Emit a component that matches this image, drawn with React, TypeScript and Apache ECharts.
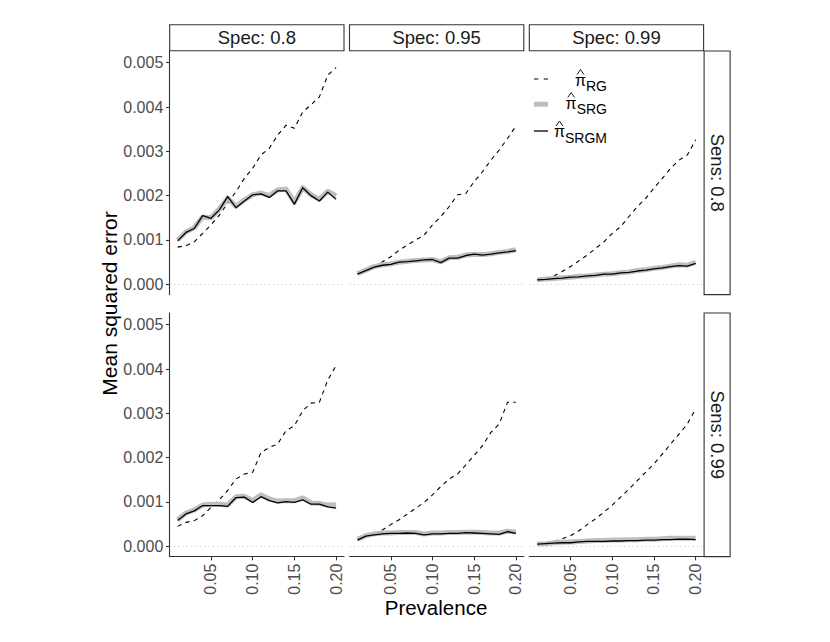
import React, { useEffect, useRef } from 'react';
import * as echarts from 'echarts';

// ---------- data ----------
const PREVALENCE = [0.01, 0.02, 0.03, 0.04, 0.05, 0.06, 0.07, 0.08, 0.09, 0.10, 0.11, 0.12, 0.13, 0.14, 0.15, 0.16, 0.17, 0.18, 0.19, 0.20];
const SPEC_LABELS = ['Spec: 0.8', 'Spec: 0.95', 'Spec: 0.99'];
const SENS_LABELS = ['Sens: 0.8', 'Sens: 0.99'];
const Y_TICKS = [0, 0.001, 0.002, 0.003, 0.004, 0.005];
const X_TICKS = [0.05, 0.10, 0.15, 0.20];
const LEGEND_SUBS = ['RG', 'SRG', 'SRGM'];
const X_TITLE = 'Prevalence';
const Y_TITLE = 'Mean squared error';

// Sens 0.8
const RG_SE80_SP80 = [0.00084, 0.00087, 0.00096, 0.00115, 0.00134, 0.00156, 0.00183, 0.00209, 0.00239, 0.00262, 0.00292, 0.00307, 0.00337, 0.00359, 0.00352, 0.00389, 0.00405, 0.00423, 0.00472, 0.00489];
const SRG_SE80_SP80 = [0.00100, 0.00118, 0.00128, 0.00152, 0.00150, 0.00170, 0.00195, 0.00176, 0.00190, 0.00202, 0.00206, 0.00200, 0.00213, 0.00215, 0.00185, 0.00218, 0.00202, 0.00192, 0.00210, 0.00200];
const SRGM_SE80_SP80 = [0.00098, 0.00117, 0.00126, 0.00155, 0.00149, 0.00168, 0.00198, 0.00173, 0.00188, 0.00202, 0.00204, 0.00196, 0.00211, 0.00211, 0.00181, 0.00218, 0.00200, 0.00188, 0.00208, 0.00192];

const RG_SE80_SP95 = [0.00025, 0.00032, 0.00040, 0.00051, 0.00062, 0.00077, 0.00089, 0.00100, 0.00111, 0.00134, 0.00153, 0.00175, 0.00202, 0.00205, 0.00232, 0.00254, 0.00280, 0.00303, 0.00329, 0.00357];
const SRG_SE80_SP95 = [0.00024, 0.00032, 0.00040, 0.00044, 0.00046, 0.00050, 0.00052, 0.00054, 0.00055, 0.00056, 0.00051, 0.00060, 0.00061, 0.00066, 0.00068, 0.00067, 0.00069, 0.00072, 0.00074, 0.00078];
const SRGM_SE80_SP95 = [0.00023, 0.00031, 0.00039, 0.00043, 0.00045, 0.00050, 0.00051, 0.00053, 0.00055, 0.00056, 0.00049, 0.00059, 0.00059, 0.00065, 0.00068, 0.00066, 0.00068, 0.00071, 0.00073, 0.00076];

const RG_SE80_SP99 = [0.00010, 0.00012, 0.00019, 0.00029, 0.00040, 0.00053, 0.00066, 0.00081, 0.00096, 0.00115, 0.00130, 0.00153, 0.00175, 0.00194, 0.00217, 0.00239, 0.00262, 0.00280, 0.00292, 0.00326];
const SRG_SE80_SP99 = [0.00010, 0.00012, 0.00013, 0.00015, 0.00016, 0.00018, 0.00019, 0.00021, 0.00023, 0.00024, 0.00026, 0.00028, 0.00031, 0.00033, 0.00036, 0.00038, 0.00041, 0.00044, 0.00043, 0.00050];
const SRGM_SE80_SP99 = [0.00010, 0.00011, 0.00013, 0.00014, 0.00016, 0.00017, 0.00019, 0.00020, 0.00023, 0.00023, 0.00026, 0.00027, 0.00030, 0.00032, 0.00035, 0.00037, 0.00040, 0.00042, 0.00041, 0.00047];

// Sens 0.99
const RG_SE99_SP80 = [0.00045, 0.00054, 0.00058, 0.00069, 0.00088, 0.00105, 0.00126, 0.00152, 0.00163, 0.00167, 0.00212, 0.00223, 0.00231, 0.00261, 0.00272, 0.00306, 0.00323, 0.00325, 0.00375, 0.00408];
const SRG_SE99_SP80 = [0.00060, 0.00075, 0.00082, 0.00093, 0.00095, 0.00095, 0.00093, 0.00112, 0.00113, 0.00103, 0.00116, 0.00107, 0.00102, 0.00103, 0.00103, 0.00109, 0.00098, 0.00097, 0.00093, 0.00094];
const SRGM_SE99_SP80 = [0.00058, 0.00073, 0.00080, 0.00092, 0.00092, 0.00092, 0.00090, 0.00110, 0.00111, 0.00099, 0.00112, 0.00103, 0.00098, 0.00101, 0.00099, 0.00105, 0.00095, 0.00095, 0.00089, 0.00086];

const RG_SE99_SP95 = [0.00017, 0.00024, 0.00029, 0.00037, 0.00049, 0.00060, 0.00073, 0.00086, 0.00099, 0.00116, 0.00135, 0.00152, 0.00163, 0.00184, 0.00205, 0.00227, 0.00257, 0.00276, 0.00325, 0.00325];
const SRG_SE99_SP95 = [0.00016, 0.00024, 0.00028, 0.00030, 0.00030, 0.00031, 0.00031, 0.00031, 0.00028, 0.00030, 0.00030, 0.00031, 0.00031, 0.00032, 0.00032, 0.00031, 0.00030, 0.00030, 0.00034, 0.00032];
const SRGM_SE99_SP95 = [0.00014, 0.00023, 0.00026, 0.00028, 0.00029, 0.00029, 0.00030, 0.00029, 0.00026, 0.00028, 0.00028, 0.00029, 0.00029, 0.00031, 0.00030, 0.00029, 0.00028, 0.00027, 0.00033, 0.00029];

const RG_SE99_SP99 = [0.00005, 0.00008, 0.00011, 0.00017, 0.00024, 0.00035, 0.00049, 0.00062, 0.00077, 0.00093, 0.00111, 0.00129, 0.00148, 0.00167, 0.00186, 0.00208, 0.00231, 0.00253, 0.00276, 0.00310];
const SRG_SE99_SP99 = [0.00005, 0.00006, 0.00008, 0.00009, 0.00010, 0.00011, 0.00012, 0.00013, 0.00013, 0.00014, 0.00014, 0.00015, 0.00015, 0.00016, 0.00016, 0.00017, 0.00018, 0.00018, 0.00018, 0.00018];
const SRGM_SE99_SP99 = [0.00005, 0.00006, 0.00007, 0.00008, 0.00008, 0.00010, 0.00011, 0.00011, 0.00011, 0.00012, 0.00012, 0.00013, 0.00013, 0.00014, 0.00014, 0.00015, 0.00015, 0.00016, 0.00016, 0.00015];

const PANELS = [
  { row: 0, col: 0, rg: RG_SE80_SP80, srg: SRG_SE80_SP80, srgm: SRGM_SE80_SP80 },
  { row: 0, col: 1, rg: RG_SE80_SP95, srg: SRG_SE80_SP95, srgm: SRGM_SE80_SP95 },
  { row: 0, col: 2, rg: RG_SE80_SP99, srg: SRG_SE80_SP99, srgm: SRGM_SE80_SP99 },
  { row: 1, col: 0, rg: RG_SE99_SP80, srg: SRG_SE99_SP80, srgm: SRGM_SE99_SP80 },
  { row: 1, col: 1, rg: RG_SE99_SP95, srg: SRG_SE99_SP95, srgm: SRGM_SE99_SP95 },
  { row: 1, col: 2, rg: RG_SE99_SP99, srg: SRG_SE99_SP99, srgm: SRGM_SE99_SP99 },
];

// ---------- layout ----------
const FONT = '"Liberation Sans", Arial, Helvetica, sans-serif';
const COL_LEFT = [169.7, 349.5, 529.3];
const PANEL_W = 174.3;
const ROW_TOP = [51, 313];
const PANEL_H = 243.6;
const STRIP = 26;
const X_MIN = 0.0005;
const X_MAX = 0.2095;
const Y_MIN = -0.000232;
const Y_MAX = 0.005264;
const AXIS_COLOR = '#333333';
const TICK_TEXT = '#4d4d4d';

function textWidth(s: string, size: number): number {
  const c = document.createElement('canvas').getContext('2d');
  if (!c) return s.length * size * 0.6;
  c.font = `${size}px ${FONT}`;
  return c.measureText(s).width;
}

function buildOption() {
  const grid: any[] = [];
  const xAxis: any[] = [];
  const yAxis: any[] = [];
  const series: any[] = [];

  PANELS.forEach((p, i) => {
    const bottom = p.row === 1;
    const left = p.col === 0;
    grid.push({ left: COL_LEFT[p.col], top: ROW_TOP[p.row], width: PANEL_W, height: PANEL_H, containLabel: false });
    xAxis.push({
      type: 'value', gridIndex: i, min: X_MIN, max: X_MAX,
      axisLine: { show: bottom, onZero: false, lineStyle: { color: AXIS_COLOR, width: 1.1 } },
      axisTick: { show: bottom, length: 3.7, customValues: X_TICKS, lineStyle: { color: AXIS_COLOR, width: 1.1 } },
      axisLabel: {
        show: bottom, customValues: X_TICKS, rotate: 90, margin: 7, fontSize: 16, color: TICK_TEXT, fontFamily: FONT,
        formatter: (v: number) => v.toFixed(2),
      },
      splitLine: { show: false },
    });
    yAxis.push({
      type: 'value', gridIndex: i, min: Y_MIN, max: Y_MAX,
      axisLine: { show: left, onZero: false, lineStyle: { color: AXIS_COLOR, width: 1.1 } },
      axisTick: { show: left, length: 3.7, customValues: Y_TICKS, lineStyle: { color: AXIS_COLOR, width: 1.1 } },
      axisLabel: {
        show: left, customValues: Y_TICKS, margin: 6.4, fontSize: 16, color: TICK_TEXT, fontFamily: FONT,
        formatter: (v: number) => v.toFixed(3),
      },
      splitLine: { show: false },
    });
    const pts = (arr: number[]) => PREVALENCE.map((x, k) => [x, arr[k]]);
    series.push({
      type: 'line', name: 'RG', xAxisIndex: i, yAxisIndex: i, data: pts(p.rg), symbol: 'none', z: 2,
      lineStyle: { color: '#000', width: 1.1, type: [4.3, 4.3], join: 'round' },
      markLine: {
        silent: true, symbol: ['none', 'none'], label: { show: false },
        lineStyle: { color: '#c4c4c4', width: 1, type: [1.1, 3.2] },
        data: [{ yAxis: 0 }],
      },
    });
    series.push({
      type: 'line', name: 'SRG', xAxisIndex: i, yAxisIndex: i, data: pts(p.srg), symbol: 'none', z: 3,
      lineStyle: { color: '#bebebe', width: 5, join: 'round', cap: 'butt' },
    });
    series.push({
      type: 'line', name: 'SRGM', xAxisIndex: i, yAxisIndex: i, data: pts(p.srgm), symbol: 'none', z: 4,
      lineStyle: { color: '#000', width: 1.3, join: 'round' },
    });
  });

  const txt = (text: string, x: number, y: number, size: number, fill: string, rotation = 0, align = 'center') => ({
    type: 'text', x, y, rotation, z: 100,
    style: {
      text, fontSize: size, fontFamily: FONT, fill,
      align, textAlign: align, verticalAlign: 'middle', textVerticalAlign: 'middle',
    },
  });

  const graphic: any[] = [];
  // top strips
  SPEC_LABELS.forEach((lab, c) => {
    graphic.push({
      type: 'rect', z: 90,
      shape: { x: COL_LEFT[c], y: ROW_TOP[0] - STRIP - 0.3, width: PANEL_W, height: STRIP },
      style: { fill: '#ffffff', stroke: AXIS_COLOR, lineWidth: 1.1 },
    });
    graphic.push(txt(lab, COL_LEFT[c] + PANEL_W / 2, ROW_TOP[0] - STRIP / 2 - 0.3, 18.5, '#1a1a1a'));
  });
  // right strips
  const stripX = COL_LEFT[2] + PANEL_W + 0.5;
  SENS_LABELS.forEach((lab, r) => {
    graphic.push({
      type: 'rect', z: 90,
      shape: { x: stripX, y: ROW_TOP[r], width: STRIP, height: PANEL_H },
      style: { fill: '#ffffff', stroke: AXIS_COLOR, lineWidth: 1.1 },
    });
    graphic.push(txt(lab, stripX + STRIP / 2, ROW_TOP[r] + PANEL_H / 2, 18.5, '#1a1a1a', -Math.PI / 2));
  });
  // axis titles
  graphic.push(txt(X_TITLE, 436, 607.5, 20.5, '#000'));
  graphic.push(txt(Y_TITLE, 109, 303.5, 21, '#000', Math.PI / 2));

  // legend
  const keyX1 = 534;
  const keyX2 = 548;
  const keyY = [79, 104.2, 131];
  const piY = [80, 103, 131.5];
  const subY = [85.5, 108.5, 137.5];
  const textRight = 607;
  graphic.push({ type: 'line', z: 100, shape: { x1: keyX1, y1: keyY[0], x2: keyX2, y2: keyY[0] }, style: { stroke: '#000', lineWidth: 1.1, lineDash: [4.3, 5.4] } });
  graphic.push({ type: 'line', z: 100, shape: { x1: keyX1, y1: keyY[1], x2: keyX2, y2: keyY[1] }, style: { stroke: '#bebebe', lineWidth: 5, lineCap: 'butt' } });
  graphic.push({ type: 'line', z: 100, shape: { x1: keyX1, y1: keyY[2], x2: keyX2, y2: keyY[2] }, style: { stroke: '#000', lineWidth: 1.3 } });
  const piW = textWidth('π', 16);
  LEGEND_SUBS.forEach((sub, r) => {
    const sw = textWidth(sub, 14);
    const piRight = textRight - sw;
    const cx = piRight - piW / 2;
    graphic.push(txt(sub, textRight, subY[r], 14, '#000', 0, 'right'));
    graphic.push(txt('π', piRight, piY[r], 16, '#000', 0, 'right'));
    graphic.push({
      type: 'polyline', z: 100,
      shape: { points: [[cx - 3.4, piY[r] - 5.5], [cx, piY[r] - 10.5], [cx + 3.4, piY[r] - 5.5]] },
      style: { stroke: '#000', lineWidth: 0.9, fill: 'none' },
    });
  });

  return {
    animation: false,
    backgroundColor: '#ffffff',
    grid, xAxis, yAxis, series, graphic,
  };
}

export default function App() {
  const ref = useRef<HTMLDivElement>(null);
  useEffect(() => {
    if (!ref.current) return;
    const chart = echarts.init(ref.current, undefined, { renderer: 'svg' });
    chart.setOption(buildOption() as any);
    return () => chart.dispose();
  }, []);
  return (
    <div
      ref={ref}
      style={{ position: 'fixed', left: 0, top: 0, width: 830, height: 642, background: '#fff' }}
    />
  );
}
